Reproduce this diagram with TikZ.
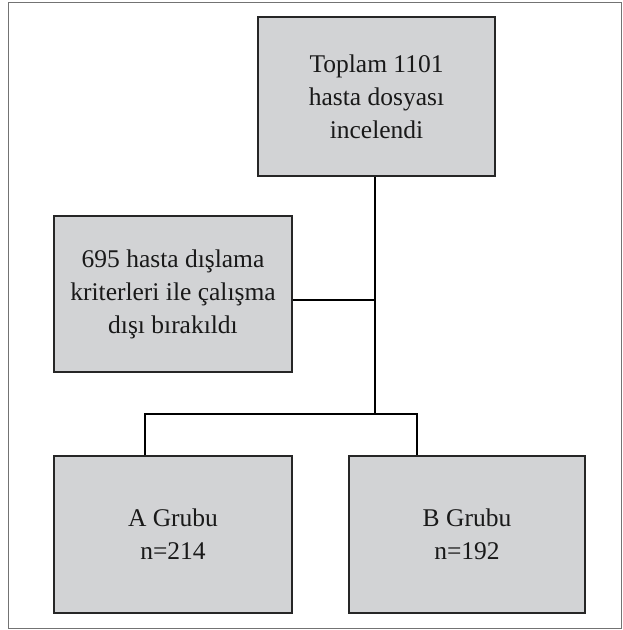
\documentclass[tikz,border=0pt]{standalone}
\usepackage{fontspec}
\setmainfont{Liberation Serif}
\begin{document}
\begin{tikzpicture}[x=1pt,y=-1pt,
  boxstyle/.style={draw=black!85, line width=1.2pt, fill=boxgray, align=center, inner sep=0pt,
    font=\fontsize{25.5}{33}\selectfont, text=black!90},
  linkstyle/.style={line width=2.4pt, black}]
\definecolor{boxgray}{RGB}{210,211,213}
\useasboundingbox (0,0) rectangle (623,630);
\draw[black!55, line width=1pt] (8,2) rectangle (621,628);
\node[boxstyle, minimum width=237pt, minimum height=159pt] (top) at (376.5,96.5) {Toplam 1101\\hasta dosyası\\incelendi};
\node[boxstyle, minimum width=238pt, minimum height=156pt] (mid) at (173,294) {695 hasta dışlama\\kriterleri ile çalışma\\dışı bırakıldı};
\node[boxstyle, minimum width=238pt, minimum height=157pt] (A) at (173,534.5) {A Grubu\\n=214};
\node[boxstyle, minimum width=236pt, minimum height=157pt] (B) at (467,534.5) {B Grubu\\n=192};
\coordinate (jm) at (375,300);
\coordinate (jc) at (375,414);
\coordinate (jl) at (145,414);
\coordinate (jr) at (417,414);
\draw[linkstyle] (top.south -| jc) -- (jc);
\draw[linkstyle] (jm) -- (jm -| mid.east);
\draw[linkstyle] (jl |- A.north) -- (jl) -- (jr) -- (jr |- B.north);
\end{tikzpicture}
\end{document}
